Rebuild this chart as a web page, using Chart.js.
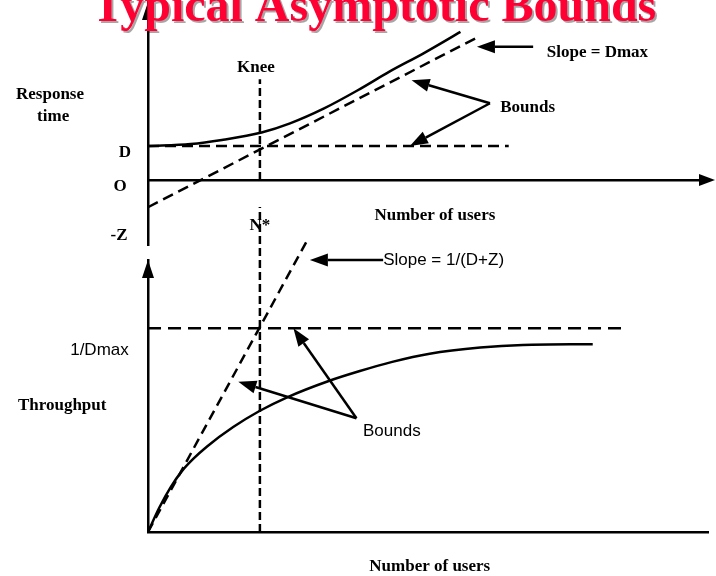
<!DOCTYPE html>
<html><head><meta charset="utf-8">
<script src="https://cdn.jsdelivr.net/npm/chart.js@4.4.1/dist/chart.umd.min.js"></script>
<style>
html,body{margin:0;padding:0;background:#fff;}
#wrap{position:relative;width:716px;height:576px;overflow:hidden;}
canvas{position:absolute;left:0;top:0;}
</style></head><body>
<div id="wrap"><canvas id="rt" width="716" height="576"></canvas><canvas id="tp" width="716" height="576"></canvas></div>
<script>
// ---- data ----
const D = 10;                 // response-time lower bound level
const Z = 8;                  // think time (intercept -Z)
const kneeUsers = 19.7;       // N*
const kneeTop = 29.7;
const responseUsers = [0, 7.5, 13, 20, 25, 31, 37, 42.5, 48.5, 55];
const responseTimes = [10, 10.6, 11.8, 14, 16.7, 21.1, 26.5, 31.9, 37.3, 43.6];
const dBoundUsers = [0, 63.5];
const dmaxBoundUsers = [0, 58];
const dmaxBoundTimes = [-Z, 42];

const throughputUsers = [0, 2, 4, 6, 8, 10.4, 15, 19.7, 24.4, 31.7, 37.3, 43, 49.6, 58.5, 66, 78.3];
const throughputValues = [0, 1.2, 2.2, 3.0, 3.6, 4.2, 5.15, 5.95, 6.6, 7.4, 7.9, 8.35, 8.75, 9.05, 9.18, 9.22];
const maxThroughput = 10;     // 1/Dmax
const maxThroughputUsers = [0, 84.3];
const dzBoundUsers = [0, 27.9];
const dzBoundValues = [0, 14.25];
const nStarTop = 15.95;

const pts = (xs, ys) => xs.map((x, i) => ({x, y: ys[i]}));

const serifB = 'bold 17px "Liberation Serif", "Times New Roman", serif';
const sans = '17px "Liberation Sans", Arial, sans-serif';

function arrow(ctx, x1, y1, x2, y2, len, hw) {
  const a = Math.atan2(y2 - y1, x2 - x1);
  const bx = x2 - len * Math.cos(a), by = y2 - len * Math.sin(a);
  ctx.beginPath(); ctx.moveTo(x1, y1); ctx.lineTo(bx, by); ctx.stroke();
  ctx.beginPath(); ctx.moveTo(x2, y2);
  ctx.lineTo(bx + hw * Math.sin(a), by - hw * Math.cos(a));
  ctx.lineTo(bx - hw * Math.sin(a), by + hw * Math.cos(a));
  ctx.closePath(); ctx.fill();
}

const diagramPlugin = {
  id: 'diagram',
  afterDraw(chart, args, opts) {
    const ctx = chart.ctx, xs = chart.scales.x, ys = chart.scales.y, ca = chart.chartArea;
    const X = v => xs.getPixelForValue(v), Y = v => ys.getPixelForValue(v);
    ctx.save();
    ctx.fillStyle = '#000'; ctx.strokeStyle = '#000'; ctx.lineWidth = 2.5; ctx.lineCap = 'butt';
    if (opts.yArrow) {
      ctx.beginPath(); ctx.moveTo(ca.left, ca.top);
      ctx.lineTo(ca.left - 6, ca.top + 18); ctx.lineTo(ca.left + 6, ca.top + 18); ctx.closePath(); ctx.fill();
    }
    if (opts.xArrow) {
      const y0 = Y(0);
      ctx.beginPath(); ctx.moveTo(ca.right + 12, y0);
      ctx.lineTo(ca.right - 4, y0 - 6); ctx.lineTo(ca.right - 4, y0 + 6); ctx.closePath(); ctx.fill();
    }
    (opts.arrows || []).forEach(a => arrow(ctx, X(a.from[0]), Y(a.from[1]), X(a.to[0]), Y(a.to[1]), 18, 6.5));
    (opts.texts || []).forEach(t => {
      ctx.font = t.font; ctx.textAlign = t.align || 'left'; ctx.textBaseline = 'alphabetic';
      ctx.fillText(t.text, X(t.x), Y(t.y));
    });
    if (opts.title) {
      ctx.font = 'bold 48px "Liberation Serif", "Times New Roman", serif';
      ctx.textAlign = 'center'; ctx.fillStyle = '#ff0033';
      ctx.shadowColor = 'rgba(0,0,0,0.35)'; ctx.shadowOffsetX = 2; ctx.shadowOffsetY = 2; ctx.shadowBlur = 0;
      ctx.fillText(opts.title, 374, 21);
    }
    ctx.restore();
  }
};

const axisCommon = {
  type: 'linear',
  ticks: {display: false},
  grid: {display: true, drawOnChartArea: false, drawTicks: false, color: 'rgba(0,0,0,0)', lineWidth: 0},
  border: {display: true, color: '#000', width: 2.5}
};

const baseOptions = (extra) => Object.assign({
  responsive: false, animation: false, events: [],
  elements: {point: {radius: 0}, line: {borderColor: '#000', borderWidth: 2.5, fill: false, tension: 0}},
  datasets: {line: {clip: false}},
}, extra);

new Chart(document.getElementById('rt'), {
  type: 'line',
  data: {datasets: [
    {data: pts(responseUsers, responseTimes), cubicInterpolationMode: 'monotone', borderWidth: 2.5},
    {data: pts(dBoundUsers, [D, D]), borderDash: [11, 6]},
    {data: pts(dmaxBoundUsers, dmaxBoundTimes), borderDash: [11, 6]},
    {data: pts([kneeUsers, kneeUsers], [0, kneeTop]), borderDash: [8, 4]}
  ]},
  options: baseOptions({
    layout: {padding: {left: 148, right: 13, top: 2, bottom: 330}},
    scales: {
      x: Object.assign({}, axisCommon, {min: 0, max: 97.7, position: {y: 0}, afterFit: s => { s.height = 0; }}),
      y: Object.assign({}, axisCommon, {min: -19.4, max: 52.4, position: 'left', afterFit: s => { s.width = 0; }})
    },
    plugins: {
      legend: {display: false}, tooltip: {enabled: false},
      diagram: {
        yArrow: true, xArrow: true,
        title: 'Typical Asymptotic Bounds',
        arrows: [
          {from: [67.8, 39.2], to: [57.9, 39.2]},
          {from: [60.2, 22.6], to: [46.4, 29.4]},
          {from: [60.2, 22.6], to: [46.1, 10]}
        ],
        texts: [
          {text: 'Response', x: -17.25, y: 23.8, font: serifB, align: 'center'},
          {text: 'time', x: -16.7, y: 17.4, font: serifB, align: 'center'},
          {text: 'D', x: -4.05, y: 6.8, font: serifB, align: 'center'},
          {text: 'O', x: -4.9, y: -3.2, font: serifB, align: 'center'},
          {text: '-Z', x: -5.1, y: -17.6, font: serifB, align: 'center'},
          {text: 'Knee', x: 19.0, y: 31.8, font: serifB, align: 'center'},
          {text: 'N*', x: 19.7, y: -14.7, font: serifB, align: 'center'},
          {text: 'Slope = Dmax', x: 70.2, y: 36.2, font: serifB},
          {text: 'Bounds', x: 62, y: 20, font: serifB},
          {text: 'Number of users', x: 50.5, y: -11.8, font: serifB, align: 'center'}
        ]
      }
    }
  }),
  plugins: [diagramPlugin]
});

new Chart(document.getElementById('tp'), {
  type: 'line',
  data: {datasets: [
    {data: pts(throughputUsers, throughputValues), cubicInterpolationMode: 'monotone', borderWidth: 2.5},
    {data: pts(maxThroughputUsers, [maxThroughput, maxThroughput]), borderDash: [13, 7]},
    {data: pts(dzBoundUsers, dzBoundValues), borderDash: [10, 6]},
    {data: pts([kneeUsers, kneeUsers], [0, nStarTop]), borderDash: [8, 4]}
  ]},
  options: baseOptions({
    layout: {padding: {left: 148, right: 7, top: 260, bottom: 44}},
    scales: {
      x: Object.assign({}, axisCommon, {min: 0, max: 98.77, position: 'bottom', afterFit: s => { s.height = 0; }}),
      y: Object.assign({}, axisCommon, {min: 0, max: 13.35, position: 'left', afterFit: s => { s.width = 0; }})
    },
    plugins: {
      legend: {display: false}, tooltip: {enabled: false},
      diagram: {
        yArrow: true, xArrow: false,
        arrows: [
          {from: [41.4, 13.35], to: [28.5, 13.35]},
          {from: [36.7, 5.58], to: [15.9, 7.38]},
          {from: [36.7, 5.58], to: [25.6, 10]}
        ],
        texts: [
          {text: 'Slope = 1/(D+Z)', x: 41.4, y: 13.1, font: sans},
          {text: '1/Dmax', x: -13.7, y: 8.69, font: sans},
          {text: 'Throughput', x: -22.9, y: 6.0, font: serifB},
          {text: 'Bounds', x: 37.85, y: 4.71, font: sans},
          {text: 'Number of users', x: 49.6, y: -1.91, font: serifB, align: 'center'}
        ]
      }
    }
  }),
  plugins: [diagramPlugin]
});
</script>
</body></html>
